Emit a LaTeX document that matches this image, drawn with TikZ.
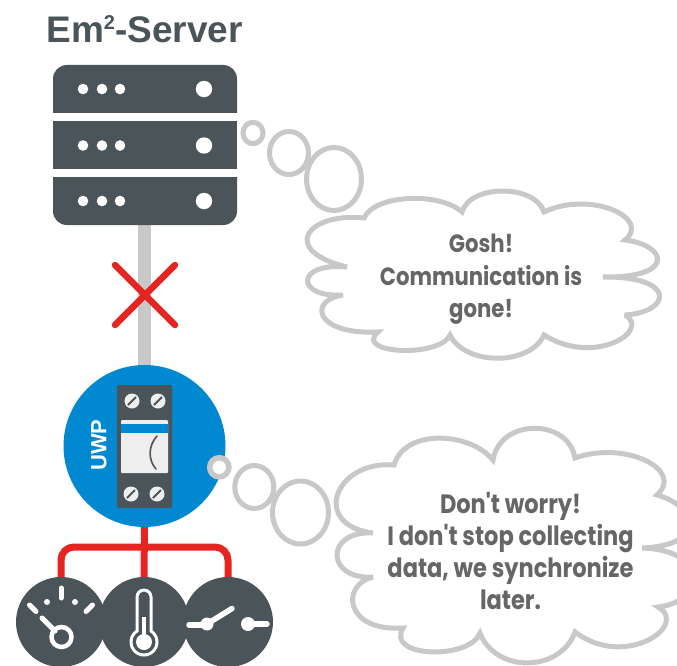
\documentclass[tikz,border=0pt]{standalone}
\usepackage{fontspec}
\usetikzlibrary{backgrounds}
\setmainfont{Liberation Sans}
\newfontfamily\cloudfont[FakeStretch=0.85]{Poppins}
\definecolor{slate}{HTML}{4A5459}
\definecolor{wire}{HTML}{C8C8C8}
\definecolor{alarm}{HTML}{E52521}
\definecolor{uwpblue}{HTML}{0089D0}
\definecolor{cloudtext}{HTML}{666666}
\definecolor{paper}{HTML}{EEEEEE}
\tikzset{
  x=1pt,y=-1pt,
  ring/.style={draw=wire,line width=5pt,fill=white},
  cloudline/.style={draw=wire,line width=5pt,fill=white,line join=miter,miter limit=3},
  cloudlabel/.style={text=cloudtext,align=center,inner sep=0pt},
  dial/.style={circle,fill=slate,inner sep=0pt,minimum size=90pt},
  redwire/.style={draw=alarm,line width=7pt},
  graywire/.style={draw=wire,line width=13pt},
  sym/.style={draw=white,line cap=round,line width=5pt},
  screwhead/.style={circle,fill=paper,inner sep=0pt,minimum size=15pt},
}
\newcommand{\screwat}[2]{%
  \node[screwhead] at (#1,#2) {};
  \draw[slate,line width=2pt] (#1-4,#2+4) -- (#1+4,#2-4);
}
\begin{document}
\begin{tikzpicture}
\useasboundingbox (0,0) rectangle (677,666);

% anchors and round nodes
\coordinate (srv) at (144.5,225);
\node[circle,fill=uwpblue,inner sep=0pt,minimum size=162pt] (uwp) at (144.5,446) {};
\node[dial] (gauge) at (61,622) {};
\node[dial] (thermo) at (144,622) {};
\node[dial] (switch) at (228,622) {};
\coordinate (busl) at (61,547);
\coordinate (busr) at (228,547);

% connectors, behind the nodes
\begin{scope}[on background layer]
\fill[white] (0,0) rectangle (677,666);
\path[graywire] (srv) -- (uwp.north);
\path[redwire] (uwp.south) -- (thermo.north);
\path[redwire,rounded corners=13pt] (gauge.north) -- (busl) -- (busr) -- (switch.north);
\end{scope}

% title
\node[font=\bfseries\fontsize{37}{37}\selectfont,text=slate,inner sep=0pt] (title) at (144.5,29) {Em\raisebox{0.34em}{\fontsize{20}{20}\selectfont 2}-Server};

% server
\fill[slate] (53,113) -- (53,79) .. controls (53,71) and (59,65) .. (67,65) -- (223,65) .. controls (231,65) and (237,71) .. (237,79) -- (237,113) -- cycle;
\fill[slate] (53,121) rectangle (237,169);
\fill[slate] (53,177) -- (237,177) -- (237,211) .. controls (237,219) and (231,225) .. (223,225) -- (67,225) .. controls (59,225) and (53,219) .. (53,211) -- cycle;
\foreach \yy in {89,145.5,201}{
  \foreach \xx in {83,102,120}{\fill[white] (\xx,\yy) circle[radius=5.3];}
  \fill[white] (204,\yy) circle[radius=8.2];
}

% red cross
\draw[alarm,line width=6.5pt,line cap=round] (115,265) -- (175,325);
\draw[alarm,line width=6.5pt,line cap=round] (175,265) -- (115,325);

% UWP module
\node[rotate=90,font=\bfseries\fontsize{22}{22}\selectfont,text=white,inner sep=0pt] (uwplabel) at (99,445) {UWP};
\fill[slate,rounded corners=1.5pt] (117,385) rectangle (172,508);
\screwat{132}{401}
\screwat{158}{401}
\screwat{131}{494}
\screwat{157}{494}
\fill[paper,rounded corners=1pt] (121,420) rectangle (168,473);
\fill[uwpblue] (121,424) rectangle (168,433);
\draw[slate,line width=1.6pt,line cap=round] (157,436) .. controls (148,446) and (148,460) .. (156,469);

% gauge
\draw[sym,line width=4.5pt] (61.5,637) circle[radius=10];
\draw[sym,line width=5pt] (42,618) -- (55,631);
\draw[sym] (61,588) -- (61,598);
\draw[sym] (29.5,605) -- (36,611.5);
\draw[sym] (92.5,605) -- (86,611.5);
\fill[white] (47,602) circle[radius=3];
\fill[white] (75,602) circle[radius=3];

% thermometer
\fill[white,rounded corners=8.5pt] (135.5,588.5) rectangle (152.5,640);
\fill[white] (144,642) circle[radius=14.5];
\fill[slate,rounded corners=5.5pt] (138.5,591.5) rectangle (149.5,640);
\fill[slate] (144,642) circle[radius=11.5];
\fill[white] (144,642) circle[radius=8];
\draw[white,line width=4.5pt] (144,617) -- (144,640);

% switch
\draw[sym,line width=5.5pt] (189,625) -- (207,625);
\fill[white] (207,624) circle[radius=6.5];
\draw[sym,line width=5.5pt] (207,624) -- (232,608.5);
\fill[white] (248,624) circle[radius=7];
\draw[sym,line width=5.5pt] (248,624) -- (267,624);

% upper thought bubbles
\draw[ring] (253,133) ellipse[x radius=10,y radius=10.7];
\draw[ring] (289,153) ellipse[x radius=19.5,y radius=21.5];
\draw[ring] (334,179) ellipse[x radius=27.5,y radius=31.5];

% lower thought bubbles
\draw[ring,line width=5.5pt] (219.3,467.3) circle[radius=9.6];
\draw[ring] (254.3,487) ellipse[x radius=19.5,y radius=21.5];
\draw[ring] (300.5,512.5) ellipse[x radius=28,y radius=31.5];

% upper cloud
\draw[cloudline] (364,218)
  .. controls (375,194) and (440,192) .. (462,212)
  .. controls (470,184) and (535,184) .. (544,212)
  .. controls (590,190) and (652,218) .. (625,240)
  .. controls (667,245) and (677,278) .. (603,277)
  .. controls (677,276) and (672,312) .. (625,315)
  .. controls (652,330) and (595,367) .. (544,335)
  .. controls (530,366) and (465,366) .. (450,335)
  .. controls (440,358) and (353,354) .. (378,332)
  .. controls (314,335) and (308,300) .. (343,295)
  .. controls (295,298) and (295,262) .. (347,267)
  .. controls (278,250) and (308,212) .. (364,218) -- cycle;
\node[cloudlabel,font=\cloudfont\bfseries\fontsize{25}{32.5}\selectfont] (gosh) at (481,279.5) {Gosh!\\Communication is\\gone!};

% lower cloud
\draw[cloudline] (394,465)
  .. controls (405,428) and (470,432) .. (493,460)
  .. controls (500,418) and (568,418) .. (575,458)
  .. controls (625,440) and (685,470) .. (657,495)
  .. controls (695,505) and (710,545) .. (642,548)
  .. controls (710,550) and (705,602) .. (658,607)
  .. controls (690,625) and (625,670) .. (575,632)
  .. controls (560,673) and (495,673) .. (480,633)
  .. controls (470,660) and (385,658) .. (403,628)
  .. controls (345,632) and (340,585) .. (373,577)
  .. controls (325,580) and (325,530) .. (373,533)
  .. controls (310,525) and (335,460) .. (394,465) -- cycle;
\node[cloudlabel,font=\cloudfont\bfseries\fontsize{26.5}{32.2}\selectfont] (worry) at (510.5,551) {Don't worry!\\I don't stop collecting\\data, we synchronize\\later.};
\end{tikzpicture}
\end{document}
